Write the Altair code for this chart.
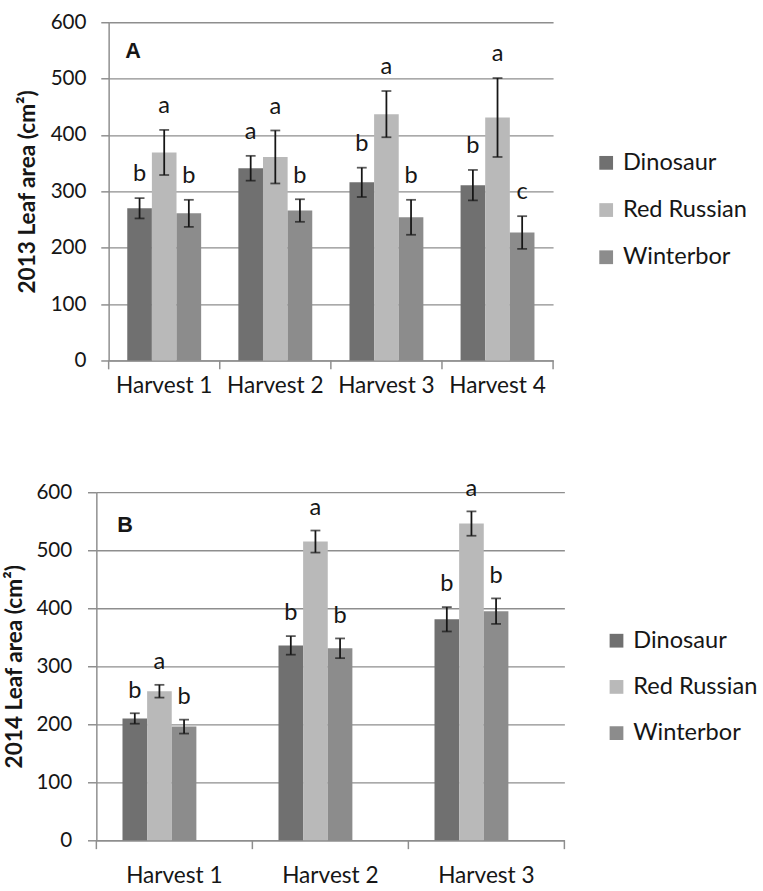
import altair as alt
import pandas as pd

varieties = ["Dinosaur", "Red Russian", "Winterbor"]
colors = ["#707070", "#b9b9b9", "#8c8c8c"]

# ---- 2013 (panel A) ----
harvests_2013 = ["Harvest 1", "Harvest 2", "Harvest 3", "Harvest 4"]
dino_2013 = [270, 341, 316, 311]
red_2013 = [369, 361, 437, 431]
wint_2013 = [261, 266, 254, 227]
dino_err_2013 = [18, 22, 26, 27]
red_err_2013 = [40, 47, 41, 70]
wint_err_2013 = [24, 20, 31, 29]
dino_let_2013 = ["b", "a", "b", "b"]
red_let_2013 = ["a", "a", "a", "a"]
wint_let_2013 = ["b", "b", "b", "c"]

# ---- 2014 (panel B) ----
harvests_2014 = ["Harvest 1", "Harvest 2", "Harvest 3"]
dino_2014 = [210, 336, 381]
red_2014 = [257, 515, 546]
wint_2014 = [196, 331, 395]
dino_err_2014 = [9, 16, 21]
red_err_2014 = [11, 19, 21]
wint_err_2014 = [12, 17, 22]
dino_let_2014 = ["b", "b", "b"]
red_let_2014 = ["a", "a", "a"]
wint_let_2014 = ["b", "b", "b"]

y_ticks = [0, 100, 200, 300, 400, 500, 600]

GRID = "#8e8e8e"
INK = "#161616"
FONT = "Lato"


def make_df(harvests, means, errs, letters):
    rows = []
    for v, m_list, e_list, l_list in zip(varieties, means, errs, letters):
        for h, m, e, l in zip(harvests, m_list, e_list, l_list):
            rows.append({"harvest": h, "variety": v, "mean": m,
                         "lo": m - e, "hi": m + e, "letter": l})
    return pd.DataFrame(rows)


def panel(df, harvests, ytitle, label, width, height, tick_size, label_pad,
          x_label_pad, legend_x, legend_y, row_pad, letter_dy, label_x, label_y,
          title_pad):
    xenc = alt.X("harvest:N", sort=harvests, title=None,
                 scale=alt.Scale(paddingInner=0.335, paddingOuter=0.1675),
                 axis=alt.Axis(ticks=False, labelPadding=x_label_pad, labelAngle=0,
                               labelFontSize=23, domainColor=GRID, domainWidth=1.5))
    xoff = alt.XOffset("variety:N", sort=varieties,
                       scale=alt.Scale(paddingInner=0, paddingOuter=0))
    base = alt.Chart(df).encode(x=xenc, xOffset=xoff)
    yscale = alt.Scale(domain=[0, 600], nice=False)
    bars = base.mark_bar().encode(
        y=alt.Y("mean:Q", scale=yscale, title=ytitle,
                axis=alt.Axis(values=y_ticks, tickSize=tick_size, labelPadding=label_pad,
                              titlePadding=title_pad, grid=True)),
        color=alt.Color("variety:N",
                        scale=alt.Scale(domain=varieties, range=colors),
                        legend=alt.Legend(title=None, orient="none", legendX=legend_x,
                                          legendY=legend_y, direction="vertical",
                                          symbolType="square", symbolSize=196,
                                          symbolStrokeWidth=0, symbolOpacity=1,
                                          labelFont=FONT, labelFontSize=24,
                                          labelColor=INK, labelOffset=5,
                                          rowPadding=row_pad, padding=0)),
    )
    err = base.mark_rule(color=INK, strokeWidth=1.8).encode(y="lo:Q", y2="hi:Q")
    cap_hi = base.mark_tick(color=INK, thickness=1.8, size=10).encode(y="hi:Q")
    cap_lo = base.mark_tick(color=INK, thickness=1.8, size=10).encode(y="lo:Q")
    letters = base.mark_text(font=FONT, fontSize=24, baseline="alphabetic",
                             dy=letter_dy, color=INK).encode(y="hi:Q", text="letter:N")
    panel_label = alt.Chart(pd.DataFrame({"label": [label]})).mark_text(
        font="Liberation Sans", fontSize=22, fontWeight="bold", align="left",
        baseline="alphabetic", color=INK).encode(
        x=alt.value(label_x), y=alt.value(label_y), text="label:N")
    inner = alt.layer(bars, err, cap_hi, cap_lo, letters, panel_label)

    tick_df = pd.DataFrame({"pos": list(range(len(harvests) + 1))})
    xticks = alt.Chart(tick_df).mark_rule(color=GRID, strokeWidth=1.5, y2Offset=9).encode(
        x=alt.X("pos:Q", scale=alt.Scale(domain=[0, len(harvests)], nice=False, zero=False),
                axis=None),
        y=alt.datum(0), y2=alt.datum(0))

    return alt.layer(inner, xticks).resolve_scale(x="independent").properties(
        width=width, height=height)


df_a = make_df(harvests_2013, [dino_2013, red_2013, wint_2013],
               [dino_err_2013, red_err_2013, wint_err_2013],
               [dino_let_2013, red_let_2013, wint_let_2013])
df_b = make_df(harvests_2014, [dino_2014, red_2014, wint_2014],
               [dino_err_2014, red_err_2014, wint_err_2014],
               [dino_let_2014, red_let_2014, wint_let_2014])

chart_a = panel(df_a, harvests_2013, "2013 Leaf area (cm²)", "A", 452, 344,
                8, 15, 14.7, 494, 131, 24, -17, 17, 36.3, 11)
chart_b = panel(df_b, harvests_2014, "2014 Leaf area (cm²)", "B", 476, 354,
                9, 16, 24.7, 517, 139, 23, -16, 21.3, 40.6, 10)

# small empty cell that shifts panel A to the right of panel B, as in the original
blank = alt.Chart(pd.DataFrame({"s": [""]})).mark_text(opacity=0).encode(
    text="s:N").properties(width=1, height=1)

row_a = alt.hconcat(blank, chart_a, spacing=11.5, bounds="flush").resolve_scale(
    color="independent").resolve_legend(color="independent")

chart = alt.vconcat(row_a, chart_b, spacing=80).resolve_scale(
    color="independent").resolve_legend(color="independent").properties(
    padding={"left": 3, "top": 4, "right": 5, "bottom": 0},
    background="white",
).configure_view(strokeWidth=0).configure_axis(
    labelFont=FONT, labelFontSize=21, labelColor=INK,
    titleFont=FONT, titleFontSize=23, titleFontWeight="bold", titleColor=INK,
    domainColor=GRID, domainWidth=1.5, tickColor=GRID, tickWidth=1.5,
    gridColor=GRID, gridWidth=1.3,
).configure_axisX(grid=False)

chart.save("out.html", embed_options={"renderer": "svg", "actions": False})
